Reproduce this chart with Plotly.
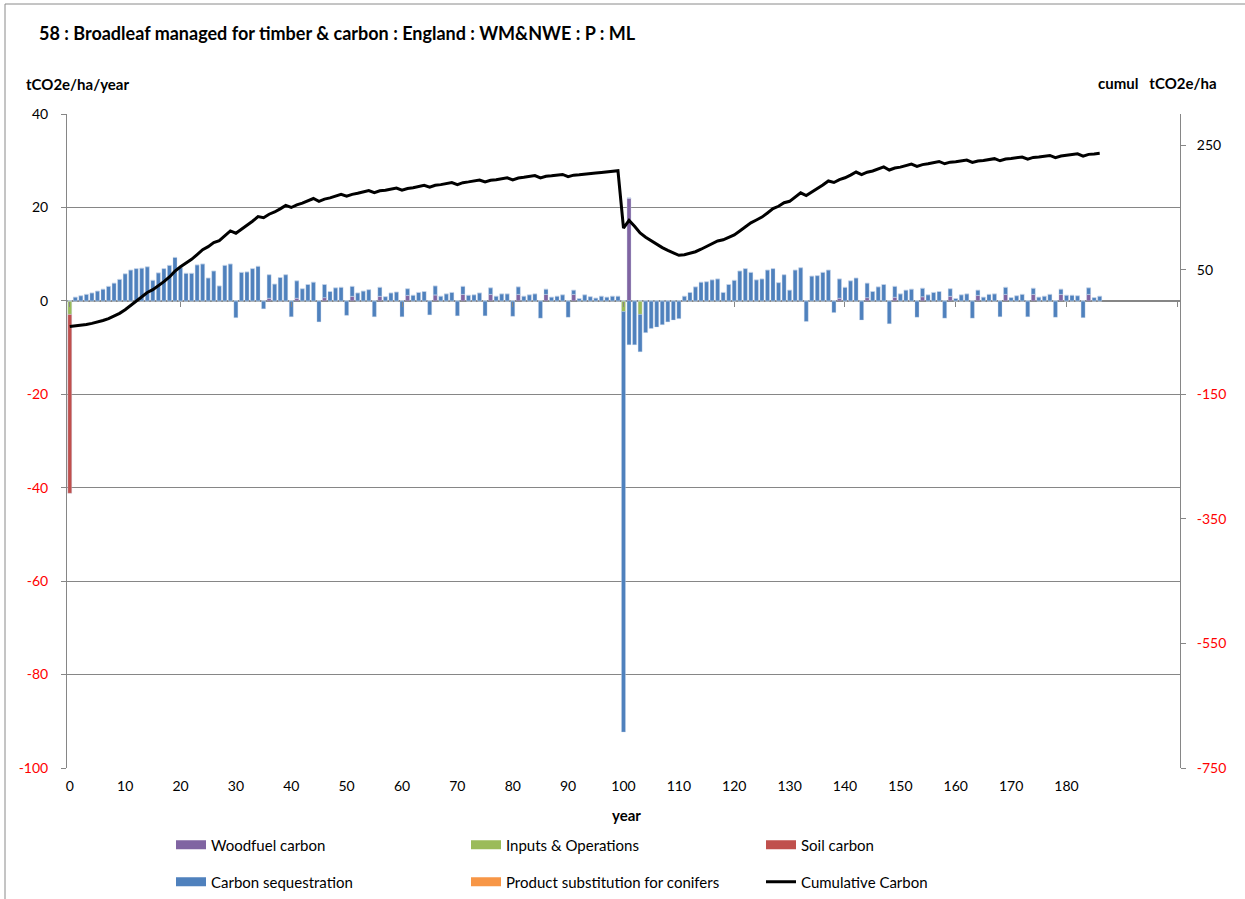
import numpy as np
import plotly.graph_objects as go

# ---- data -------------------------------------------------------------
years = list(range(0, 187))

# Carbon sequestration (tCO2e/ha/year), years 0..186
sequestration = [
    0.0, 0.8, 1.1, 1.4, 1.7, 2.1, 2.5, 3.1, 3.8, 4.6,
    5.8, 6.6, 6.9, 7.0, 7.3, 4.4, 6.0, 6.9, 7.6, 9.3,
    7.1, 5.9, 5.9, 7.7, 7.9, 4.9, 6.4, 3.2, 7.6, 7.9,
    -3.6, 6.1, 6.2, 6.9, 7.4, -1.7, 5.0, 3.6, 5.0, 5.6,
    -3.4, 3.7, 2.6, 3.5, 4.0, -4.5, 2.8, 2.0, 2.8, 2.9,
    -3.1, 2.1, 1.7, 2.1, 2.4, -3.4, 1.9, 0.9, 1.7, 1.9,
    -3.4, 1.4, 1.2, 1.8, 2.0, -3.0, 1.9, 1.0, 1.5, 1.8,
    -3.2, 1.7, 1.2, 1.3, 1.7, -3.2, 1.4, 1.0, 1.5, 1.5,
    -3.3, 1.6, 1.0, 1.3, 1.5, -3.7, 1.1, 0.8, 1.0, 1.3,
    -3.5, 0.9, 0.5, 1.3, 0.9, 0.6, 1.0, 0.8, 1.0, 1.0,
    -90.0, -9.4, -9.4, -8.0, -6.8, -5.9, -5.6, -5.1, -4.5, -4.1,
    -3.8, 1.0, 1.8, 3.0, 4.0, 4.1, 4.5, 4.7, 1.8, 3.5,
    4.4, 6.4, 6.9, 6.1, 4.5, 4.7, 6.6, 6.9, 3.9, 5.6,
    2.3, 6.6, 7.1, -4.4, 5.3, 5.4, 6.1, 6.6, -2.5, 4.1,
    2.9, 4.3, 4.9, -4.1, 3.1, 2.0, 3.0, 3.5, -4.9, 2.3,
    1.5, 2.3, 2.5, -3.5, 1.8, 1.3, 1.8, 2.0, -3.7, 1.6,
    0.5, 1.3, 1.5, -3.7, 1.1, 0.8, 1.4, 1.5, -3.4, 1.5,
    0.7, 1.1, 1.4, -3.4, 1.3, 0.8, 1.0, 1.4, -3.5, 1.1,
    1.2, 1.2, 1.1, -3.6, 1.4, 0.7, 1.0,
]

# Woodfuel carbon (sparse: year -> value)
woodfuel_years = [36, 41, 46, 51, 56, 61, 66, 71, 76, 81, 86, 91, 101,
                  139, 144, 149, 154, 159, 164, 169, 174, 179, 184]
woodfuel_values = [0.6, 0.6, 0.7, 1.0, 1.0, 1.2, 1.3, 1.4, 1.4, 1.4, 1.4, 1.4, 22.0,
                   0.6, 0.7, 0.8, 0.9, 1.0, 1.2, 1.4, 1.4, 1.4, 1.4]

# Inputs & operations
inputs_years = [0, 100, 103]
inputs_values = [-2.9, -2.3, -2.9]

# Soil carbon
soil_years = [0]
soil_values = [-38.3]

# Product substitution for conifers (none for this broadleaf scenario)
product_years = []
product_values = []

left_ticks = [40, 20, 0, -20, -40, -60, -80, -100]
right_ticks = [250, 50, -150, -350, -550, -750]
x_ticks = list(range(0, 181, 10))


def expand(idx, vals):
    arr = np.zeros(len(years))
    for i, v in zip(idx, vals):
        arr[i] = v
    return arr


woodfuel = expand(woodfuel_years, woodfuel_values)
inputs = expand(inputs_years, inputs_values)
soil = expand(soil_years, soil_values)
product = expand(product_years, product_values)
seq = np.array(sequestration)

# Running total of every annual flux
cumulative = np.cumsum(woodfuel + inputs + soil + seq + product)

# ---- layout geometry (px) ---------------------------------------------
W, H = 1245, 899
ML, MR, MT, MB = 67, 65, 114, 131
PW, PH = W - ML - MR, H - MT - MB


def px(x):
    return (x - ML) / PW


def py(y):
    return (H - MB - y) / PH


FONT = "Lato"
GRID = "#868686"
RED = "#FF0000"

fig = go.Figure()

series = [
    ("Woodfuel carbon", woodfuel, "#8064A2", "legend"),
    ("Inputs & Operations", inputs, "#9BBB59", "legend"),
    ("Soil carbon", soil, "#C0504D", "legend"),
    ("Carbon sequestration", seq, "#4F81BD", "legend2"),
    ("Product substitution for conifers", product, "#F79646", "legend2"),
]
for name, vals, col, lg in series:
    fig.add_trace(go.Bar(
        x=years, y=vals, name=name, showlegend=False,
        marker=dict(color=col, line=dict(color="rgba(200,215,235,0.7)", width=0.5)),
    ))

fig.add_trace(go.Scatter(
    x=years, y=cumulative, name="Cumulative Carbon", showlegend=False,
    mode="lines", line=dict(color="black", width=3), yaxis="y2",
))

# Legend entries: wide rectangular swatches for the bar series
for name, vals, col, lg in series:
    fig.add_trace(go.Scatter(
        x=[None], y=[None], name=name, legend=lg, mode="lines",
        line=dict(color=col, width=9), hoverinfo="skip",
    ))
fig.add_trace(go.Scatter(
    x=[None], y=[None], name="Cumulative Carbon", legend="legend2", mode="lines",
    line=dict(color="black", width=3), yaxis="y2", hoverinfo="skip",
))


def colored(vals):
    return [f'<span style="color:{RED if v < 0 else "black"}">{v}</span>' for v in vals]


legend_common = dict(
    orientation="h", xanchor="left", yanchor="middle",
    entrywidth=250, entrywidthmode="pixels", font=dict(size=15),
    bgcolor="rgba(0,0,0,0)", traceorder="normal", itemwidth=30,
)

fig.update_layout(
    width=W, height=H,
    margin=dict(l=ML, r=MR, t=MT, b=MB, autoexpand=False),
    paper_bgcolor="white", plot_bgcolor="white",
    font=dict(family=FONT, size=13, color="black"),
    barmode="relative", bargap=0.28,
    xaxis=dict(
        range=[-0.5, 200.5], tickvals=x_ticks, ticks="", showgrid=False,
        showline=False, zeroline=False, ticklabelstandoff=8,
        tickfont=dict(size=14),
    ),
    xaxis2=dict(
        overlaying="x", anchor="free", position=100 / 140, side="bottom",
        range=[-0.5, 200.5], tickvals=list(range(0, 201, 20)), ticks="outside",
        ticklen=5, tickcolor=GRID, showticklabels=False, showgrid=False,
        showline=False, zeroline=False,
    ),
    yaxis=dict(
        range=[-100, 40], tickvals=left_ticks, ticktext=colored(left_ticks),
        showgrid=True, gridcolor=GRID, gridwidth=1,
        showline=True, linecolor=GRID, linewidth=1,
        ticks="outside", ticklen=5, tickcolor=GRID, ticklabelstandoff=10,
        zeroline=True, zerolinecolor=GRID, zerolinewidth=2,
        tickfont=dict(size=14),
    ),
    yaxis2=dict(
        overlaying="y", side="right", range=[-750, 300],
        tickvals=right_ticks, ticktext=colored(right_ticks),
        showgrid=False, zeroline=False,
        showline=True, linecolor=GRID, linewidth=1,
        ticks="outside", ticklen=5, tickcolor=GRID, ticklabelstandoff=8,
        tickfont=dict(size=14),
    ),
    legend=dict(x=px(171), y=py(845), **legend_common),
    legend2=dict(x=px(171), y=py(882), **legend_common),
    showlegend=True,
)

# Invisible trace to activate the tick-mark axis at zero
fig.add_trace(go.Scatter(x=[0], y=[0], xaxis="x2", yaxis="y", mode="markers",
                         marker=dict(opacity=0), showlegend=False, hoverinfo="skip"))

annotations = [
    dict(text="<b>58 : Broadleaf managed for timber & carbon : England : WM&NWE : P : ML</b>",
         x=px(37), y=py(33), xanchor="left", yanchor="middle", font=dict(size=18)),
    dict(text="<b>tCO2e/ha/year</b>", x=px(24), y=py(84), xanchor="left",
         yanchor="middle", font=dict(size=15)),
    dict(text="<b>cumul   tCO2e/ha</b>", x=px(1096), y=py(83), xanchor="left",
         yanchor="middle", font=dict(size=15)),
    dict(text="<b>year</b>", x=px(626), y=py(815), xanchor="center",
         yanchor="middle", font=dict(size=15)),
]
for a in annotations:
    a.update(xref="paper", yref="paper", showarrow=False)
fig.update_layout(annotations=annotations)

# Outer chart border
fig.add_shape(type="rect", xref="paper", yref="paper",
              x0=px(5), x1=px(1400), y0=py(4), y1=py(1000),
              line=dict(color="#8A8A8A", width=1), fillcolor="rgba(0,0,0,0)", layer="below")

fig.write_html("out.html")
